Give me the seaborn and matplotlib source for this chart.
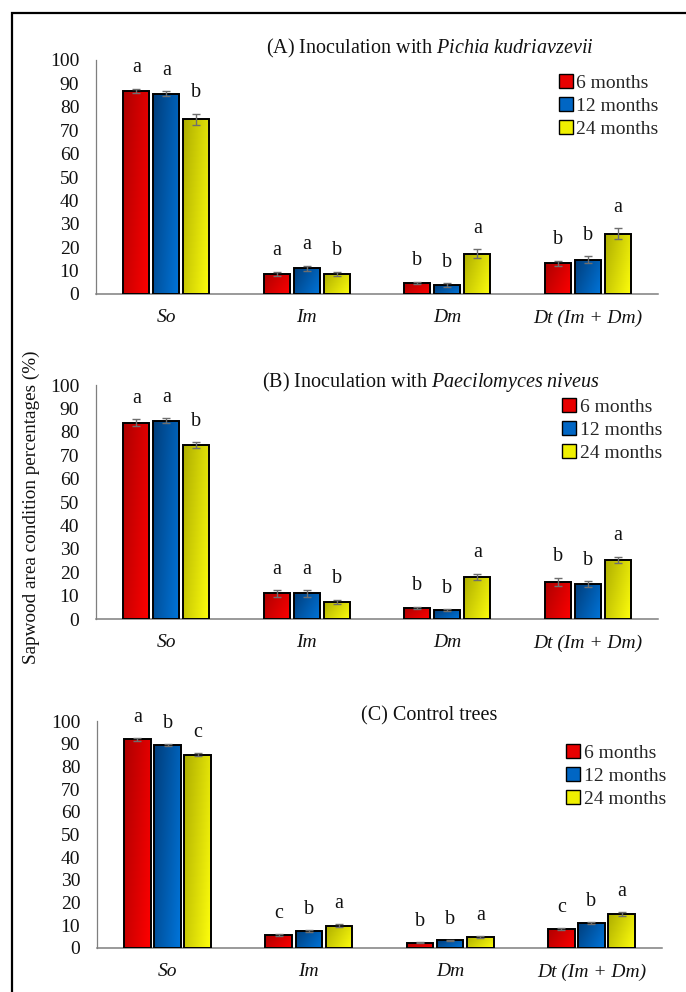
import numpy as np
import pandas as pd
import matplotlib
matplotlib.use("Agg")
import matplotlib.pyplot as plt
from matplotlib.patches import Rectangle, Patch
import seaborn as sns

# ---------------- data ----------------
categories = ["So", "Im", "Dm", "Dt (Im + Dm)"]
periods = ["6 months", "12 months", "24 months"]

A_6 = [86.8, 8.7, 4.7, 13.2]
A_12 = [85.6, 11.0, 3.7, 14.7]
A_24 = [74.7, 8.7, 17.2, 25.7]
A_6_err = [1.0, 0.9, 0.6, 1.1]
A_12_err = [1.0, 1.0, 0.8, 1.4]
A_24_err = [2.3, 0.9, 1.9, 2.3]
A_6_let = ["a", "a", "b", "b"]
A_12_let = ["a", "a", "b", "b"]
A_24_let = ["b", "b", "a", "a"]

B_6 = [83.8, 10.9, 4.7, 16.0]
B_12 = [84.7, 10.9, 3.8, 14.9]
B_24 = [74.2, 7.4, 17.9, 25.4]
B_6_err = [1.5, 1.3, 0.6, 1.7]
B_12_err = [1.1, 1.3, 0.4, 1.2]
B_24_err = [1.3, 0.8, 1.4, 1.3]
B_6_let = ["a", "a", "b", "b"]
B_12_let = ["a", "a", "b", "b"]
B_24_let = ["b", "b", "a", "a"]

C_6 = [91.9, 5.7, 2.3, 8.5]
C_12 = [89.3, 7.5, 3.5, 11.1]
C_24 = [85.2, 9.8, 5.0, 14.8]
C_6_err = [0.5, 0.4, 0.2, 0.5]
C_12_err = [0.4, 0.4, 0.2, 0.5]
C_24_err = [0.7, 0.6, 0.5, 0.9]
C_6_let = ["a", "c", "b", "c"]
C_12_let = ["b", "b", "b", "b"]
C_24_let = ["c", "a", "a", "a"]

titles = [r"(A) Inoculation with $\mathit{Pichia\ kudriavzevii}$",
          r"(B) Inoculation with $\mathit{Paecilomyces\ niveus}$",
          "(C) Control trees"]
yticks = [0, 10, 20, 30, 40, 50, 60, 70, 80, 90, 100]
ylabel = "Sapwood area condition percentages (%)"

# ---------------- style ----------------
sns.set_theme(style="white")
plt.rcParams["font.family"] = ["Liberation Serif", "DejaVu Serif"]
plt.rcParams["mathtext.fontset"] = "custom"
plt.rcParams["mathtext.rm"] = "Liberation Serif"
plt.rcParams["mathtext.it"] = "Liberation Serif:italic"

palette = ["#E80000", "#0066C4", "#F0F000"]
grad_dark = [(0.68, 0.0, 0.0), (0.0, 0.24, 0.48), (0.68, 0.68, 0.0)]
grad_bright = [(1.0, 0.0, 0.0), (0.0, 0.46, 0.86), (1.0, 1.0, 0.05)]

W, H = 686, 992
fig = plt.figure(figsize=(W / 100, H / 100), dpi=100)

# outer frame (right/bottom edges fall outside the image)
fig.add_artist(Rectangle((12 / W, -0.1), 1.2, 1 - 13 / H + 0.1,
                         transform=fig.transFigure, fill=False,
                         lw=1.6, edgecolor="black"))

panels = [
    dict(vals=[A_6, A_12, A_24], errs=[A_6_err, A_12_err, A_24_err],
         lets=[A_6_let, A_12_let, A_24_let],
         box=(96, 658, 60, 294), title_xy=(430, 48), leg_xy=(559, 74)),
    dict(vals=[B_6, B_12, B_24], errs=[B_6_err, B_12_err, B_24_err],
         lets=[B_6_let, B_12_let, B_24_let],
         box=(96, 658, 385, 619), title_xy=(431, 382), leg_xy=(562, 398)),
    dict(vals=[C_6, C_12, C_24], errs=[C_6_err, C_12_err, C_24_err],
         lets=[C_6_let, C_12_let, C_24_let],
         box=(97, 662, 721, 948), title_xy=(429, 716), leg_xy=(566, 744)),
]

for p, title in zip(panels, titles):
    x0, x1, ytop, ybot = p["box"]
    ax = fig.add_axes([x0 / W, 1 - ybot / H, (x1 - x0) / W, (ybot - ytop) / H])

    rows = []
    for per, vals in zip(periods, p["vals"]):
        for cat, v in zip(categories, vals):
            rows.append({"cat": cat, "period": per, "value": v})
    df = pd.DataFrame(rows)

    sns.barplot(data=df, x="cat", y="value", hue="period", order=categories,
                hue_order=periods, palette=palette, width=0.64, gap=0.12,
                errorbar=None, edgecolor="black", linewidth=1.4, ax=ax,
                legend=False)

    bar_containers = list(ax.containers)
    for k, cont in enumerate(bar_containers):
        for j, bar in enumerate(cont.patches):
            bx, by = bar.get_x(), bar.get_y()
            bw, bh = bar.get_width(), bar.get_height()
            nx, ny = 40, 80
            u = np.linspace(0, 1, nx)[None, :]
            v = np.linspace(0, 1, ny)[:, None]  # 0 top -> 1 bottom
            t = np.clip(0.65 * u + 0.35 * v, 0, 1)
            d = np.array(grad_dark[k]); b = np.array(grad_bright[k])
            img = d[None, None, :] * (1 - t[..., None]) + b[None, None, :] * t[..., None]
            im = ax.imshow(img, extent=[bx, bx + bw, by, by + bh], origin="upper",
                           aspect="auto", interpolation="bilinear", zorder=2)
            im.set_clip_path(bar)
            bar.set_facecolor("none")
            bar.set_zorder(3)

            cx = bx + bw / 2
            val = p["vals"][k][j]
            err = p["errs"][k][j]
            ax.errorbar(cx, val, yerr=err, fmt="none", ecolor="#6E6E6E",
                        elinewidth=1.0, capsize=3.2, capthick=1.0, zorder=4)
            ax.text(cx, val + err + 9, p["lets"][k][j], ha="center",
                    va="center", fontsize=14.5, color="#111111", zorder=5)

    ax.set_xlim(-0.5, 3.5)
    ax.set_ylim(0, 100)
    ax.set_yticks(yticks)
    ax.set_xlabel("")
    ax.set_ylabel("")
    ax.tick_params(axis="both", length=0, labelsize=14, colors="#111111")
    ax.tick_params(axis="y", pad=12)
    ax.tick_params(axis="x", pad=11)
    for lbl in ax.get_xticklabels():
        lbl.set_style("italic")
    for s in ["top", "right"]:
        ax.spines[s].set_visible(False)
    ax.spines["left"].set_color("#7F7F7F")
    ax.spines["left"].set_linewidth(0.9)
    ax.spines["bottom"].set_color("#7F7F7F")
    ax.spines["bottom"].set_linewidth(1.1)
    ax.set_facecolor("none")

    tx, ty = p["title_xy"]
    fig.text(tx / W, 1 - ty / H, title, ha="center", va="center",
             fontsize=14.5, color="#111111")

    handles = [Patch(facecolor=c, edgecolor="black", linewidth=1.0) for c in palette]
    lx, ly = p["leg_xy"]
    fig.legend(handles, periods, loc="upper left",
               bbox_to_anchor=(lx / W, 1 - ly / H), frameon=False,
               fontsize=14, handlelength=0.7, handleheight=0.7,
               handletextpad=0.2, labelspacing=0.28, borderpad=0,
               borderaxespad=0)

fig.text(31 / W, 1 - 507 / H, ylabel, rotation=90, ha="center", va="center",
         fontsize=13.8, color="#111111")

fig.savefig("out.png", dpi=100)
